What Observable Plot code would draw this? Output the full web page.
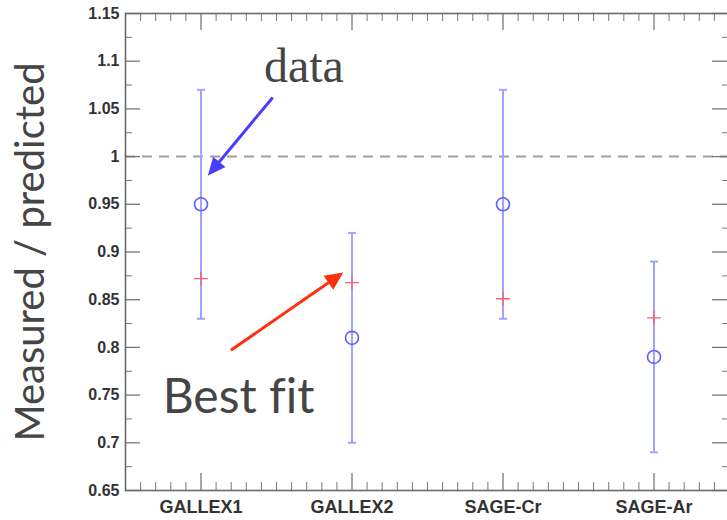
<!DOCTYPE html>
<html><head><meta charset="utf-8">
<script src="https://cdn.jsdelivr.net/npm/d3@7"></script>
<script src="https://cdn.jsdelivr.net/npm/@observablehq/plot@0.6"></script>
<style>
body{margin:0;background:#fff;overflow:hidden}
#chart svg{display:block}
#chart text{font-variant-ligatures:none}
</style>
</head><body><div id="chart"></div>
<script>
// ---- data ----
const experiments = ["GALLEX1", "GALLEX2", "SAGE-Cr", "SAGE-Ar"];
const measured   = [0.95, 0.81, 0.95, 0.79];
const errLow     = [0.83, 0.70, 0.83, 0.69];
const errHigh    = [1.07, 0.92, 1.07, 0.89];
const bestFit    = [0.872, 0.868, 0.851, 0.831];
const yTickValues = [0.65, 0.7, 0.75, 0.8, 0.85, 0.9, 0.95, 1, 1.05, 1.1, 1.15];
const referenceLine = [1];
const yLabel = "Measured / predicted";
const dataNote = {text: "data", x: 1.417, y: 1.078};
const fitNote = {text: "Best fit", x: 0.746, y: 0.731};
const dataArrow = {x1: 1.475, y1: 1.062, x2: 1.045, y2: 0.980};
const fitArrow  = {x1: 1.198, y1: 0.797, x2: 1.942, y2: 0.8785};

// ---- layout ----
const W = 727, H = 520;
const mL = 125, mR = -2, mT = 13, mB = 30;
const xDomain = [0.5, 4.5], yDomain = [0.65, 1.15];
const innerW = W - mL - mR, innerH = H - mT - mB;
const xs = d3.scaleLinear(xDomain, [mL, W - mR]);
const ys = d3.scaleLinear(yDomain, [H - mB, mT]);

const rows = experiments.map((name, i) => ({
  x: i + 1, name, m: measured[i], lo: errLow[i], hi: errHigh[i], fit: bestFit[i]
}));

const xMajor = experiments.map((_, i) => i + 1);
const xMinor = d3.range(5, 46).map(v => v / 10).filter(v => Math.abs(v - Math.round(v)) > 1e-6);
const yMinor = d3.range(65, 116, 2.5).map(v => v / 100).filter(v => !yTickValues.some(t => Math.abs(t - v) < 1e-6));

const BLUE_ERR = "#a3a3ff", BLUE_DOT = "#5c5cff", RED_FIT = "#ff5a70";
const ARROW_BLUE = "#4b3cff", ARROW_RED = "#ff3010";
const TICK = "#777";

// arrow head: custom symbol (tip at origin), rotated to the arrow direction
function headSymbol(a, len, half) {
  const px1 = xs(a.x1), py1 = ys(a.y1), px2 = xs(a.x2), py2 = ys(a.y2);
  const ang = Math.atan2(py2 - py1, px2 - px1);
  const c = Math.cos(ang), s = Math.sin(ang);
  const rot = ([u, v]) => [u * c - v * s, u * s + v * c];
  const pts = [[0, 0], [-len, -half], [-len, half]].map(rot);
  return {draw(ctx) {
    ctx.moveTo(pts[0][0], pts[0][1]);
    ctx.lineTo(pts[1][0], pts[1][1]);
    ctx.lineTo(pts[2][0], pts[2][1]);
    ctx.closePath();
  }};
}
function shaftEnd(a, back) {
  const px1 = xs(a.x1), py1 = ys(a.y1), px2 = xs(a.x2), py2 = ys(a.y2);
  const d = Math.hypot(px2 - px1, py2 - py1);
  return {x1: a.x1, y1: a.y1,
          x2: xs.invert(px2 - (px2 - px1) / d * back),
          y2: ys.invert(py2 - (py2 - py1) / d * back)};
}
const capSymbol = {draw(ctx) { ctx.moveTo(-4, 0); ctx.lineTo(4, 0); }};

const tickFmt = d => String(+d.toFixed(2));

const plot = Plot.plot({
  width: W, height: H,
  marginLeft: mL, marginRight: mR, marginTop: mT, marginBottom: mB,
  style: {background: "#fff", color: "#333", overflow: "hidden"},
  x: {domain: xDomain, axis: null},
  y: {domain: yDomain, axis: null},
  marks: [
    Plot.ruleY(referenceLine, {y: d => d, stroke: "#a0a0a0", strokeWidth: 2, strokeDasharray: "10,7"}),
    // error bars
    Plot.ruleX(rows, {x: "x", y1: "lo", y2: "hi", stroke: BLUE_ERR, strokeWidth: 2}),
    Plot.dot(rows, {x: "x", y: "lo", r: 4, symbol: capSymbol, fill: "none", stroke: BLUE_ERR, strokeWidth: 2}),
    Plot.dot(rows, {x: "x", y: "hi", r: 4, symbol: capSymbol, fill: "none", stroke: BLUE_ERR, strokeWidth: 2}),
    // best fit
    Plot.dot(rows, {x: "x", y: "fit", r: 4.5, symbol: "plus", stroke: RED_FIT, strokeWidth: 1.3}),
    // measured
    Plot.dot(rows, {x: "x", y: "m", r: 6.5, fill: "none", stroke: BLUE_DOT, strokeWidth: 1.6}),
    // arrows
    Plot.link([shaftEnd(dataArrow, 8)], {x1: "x1", y1: "y1", x2: "x2", y2: "y2", stroke: ARROW_BLUE, strokeWidth: 3}),
    Plot.dot([dataArrow], {x: "x2", y: "y2", r: 5, symbol: headSymbol(dataArrow, 18, 8), fill: ARROW_BLUE, stroke: "none"}),
    Plot.link([shaftEnd(fitArrow, 8)], {x1: "x1", y1: "y1", x2: "x2", y2: "y2", stroke: ARROW_RED, strokeWidth: 3}),
    Plot.dot([fitArrow], {x: "x2", y: "y2", r: 5, symbol: headSymbol(fitArrow, 18, 8.5), fill: ARROW_RED, stroke: "none"}),
    // annotations
    Plot.text([dataNote], {x: "x", y: "y", text: "text", textAnchor: "start", lineAnchor: "bottom",
      fontSize: 48, fontFamily: "Liberation Serif, DejaVu Serif, serif", fill: "#454545"}),
    Plot.text([fitNote], {x: "x", y: "y", text: "text", textAnchor: "start", lineAnchor: "bottom",
      fontSize: 48, fontFamily: "Lato, 'Open Sans', sans-serif", fill: "#454545"}),
    // y label
    Plot.text([yLabel], {frameAnchor: "left", dx: -94, rotate: -90, text: d => d, textAnchor: "middle", lineAnchor: "middle",
      fontSize: 40, fontFamily: "Lato, 'Open Sans', sans-serif", fill: "#454545"}),
    // ticks: left / right
    Plot.tickY(yTickValues, {y: d => d, insetRight: innerW - 15, stroke: TICK, strokeWidth: 1.3}),
    Plot.tickY(yMinor, {y: d => d, insetRight: innerW - 7, stroke: TICK, strokeWidth: 1}),
    Plot.tickY(yTickValues, {y: d => d, insetLeft: innerW - 17, stroke: TICK, strokeWidth: 1.3}),
    Plot.tickY(yMinor, {y: d => d, insetLeft: innerW - 7, stroke: TICK, strokeWidth: 1}),
    // ticks: top / bottom
    Plot.tickX(xMajor, {x: d => d, insetBottom: innerH - 17, stroke: TICK, strokeWidth: 1.3}),
    Plot.tickX(xMinor, {x: d => d, insetBottom: innerH - 8, stroke: TICK, strokeWidth: 1}),
    Plot.tickX(xMajor, {x: d => d, insetTop: innerH - 17, stroke: TICK, strokeWidth: 1.3}),
    Plot.tickX(xMinor, {x: d => d, insetTop: innerH - 8, stroke: TICK, strokeWidth: 1}),
    Plot.frame({stroke: "#6a6a6a", strokeWidth: 1.6}),
    // axes labels
    Plot.axisY(yTickValues, {anchor: "left", tickSize: 0, tickPadding: 6, tickFormat: tickFmt, label: null,
      fontSize: 16, fontWeight: "bold", fontFamily: "Liberation Sans, Arial, sans-serif", fill: "#333"}),
    Plot.axisX(xMajor, {anchor: "bottom", tickSize: 0, tickPadding: 10, tickFormat: d => experiments[d - 1], label: null,
      fontSize: 18, fontWeight: "bold", fontFamily: "Liberation Sans, Arial, sans-serif", fill: "#333"})
  ]
});
document.getElementById("chart").appendChild(plot);
</script>
</body></html>
